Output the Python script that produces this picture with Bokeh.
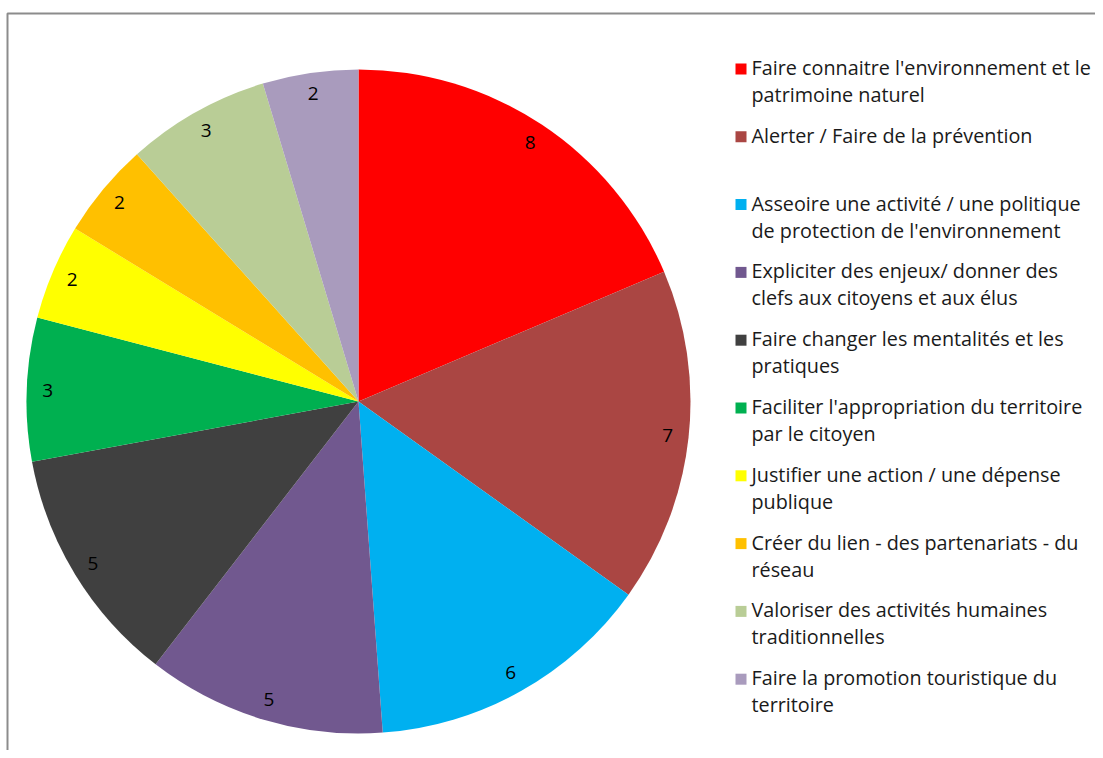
import math
from bokeh.plotting import figure
from bokeh.models import Range1d, ColumnDataSource
from bokeh.core.properties import value
from bokeh.embed import file_html
from bokeh.resources import INLINE

categories = [
    "Faire connaitre l'environnement et le\npatrimoine naturel",
    "Alerter / Faire de la prévention",
    "Asseoire une activité / une politique\nde protection de l'environnement",
    "Expliciter des enjeux/ donner des\nclefs aux citoyens et aux élus",
    "Faire changer les mentalités et les\npratiques",
    "Faciliter l'appropriation du territoire\npar le citoyen",
    "Justifier une action / une dépense\npublique",
    "Créer du lien -  des partenariats - du\nréseau",
    "Valoriser des activités humaines\ntraditionnelles",
    "Faire la promotion touristique du\nterritoire",
]
values = [8, 7, 6, 5, 5, 3, 2, 2, 3, 2]
colors = ["#FF0000", "#AA4643", "#00B0F0", "#71588F", "#404040",
          "#00B050", "#FFFF00", "#FFC000", "#B9CD96", "#A99BBD"]

FONT = "Open Sans"
W, H = 1095, 750

def py(page_y):
    return H - page_y

p = figure(width=W, height=H, output_backend="svg", toolbar_location=None,
           x_range=Range1d(0, W), y_range=Range1d(0, H),
           min_border=0, outline_line_color=None)
p.xaxis.visible = False
p.yaxis.visible = False
p.grid.visible = False
p.background_fill_color = "white"
p.border_fill_color = "white"

# chart frame (top and left edges visible)
p.line([7, 7, W], [py(H + 2), py(13), py(13)], line_color="#8C8C8C", line_width=2)

# pie
cx, cy, r = 358, py(401), 332
total = float(sum(values))
starts, ends, mids = [], [], []
acc = 0.0
for v in values:
    a0 = math.pi / 2 - 2 * math.pi * acc / total
    a1 = math.pi / 2 - 2 * math.pi * (acc + v) / total
    starts.append(a1)
    ends.append(a0)
    mids.append((a0 + a1) / 2)
    acc += v

src = ColumnDataSource(dict(start=starts, end=ends, color=colors))
p.wedge(x=cx, y=cy, radius=r, start_angle="start", end_angle="end",
        fill_color="color", line_color=None, source=src)

lr = 311
lx = [cx + lr * math.cos(m) for m in mids]
ly = [cy + lr * math.sin(m) for m in mids]
p.text(x=lx, y=ly, text=[str(v) for v in values], text_font=value(FONT),
       text_font_size="19px", text_color="#000000", text_align="center",
       text_baseline="middle")

# legend
sq_x, txt_x = 740.5, 751
first_y = 68.5
step = 67.8
line_gap = 27
for i, (lab, col) in enumerate(zip(categories, colors)):
    y0 = first_y + i * step
    p.rect(x=sq_x, y=py(y0), width=11, height=11, fill_color=col, line_color=None)
    for j, line in enumerate(lab.split("\n")):
        p.text(x=[txt_x], y=[py(y0 - 1.5 + j * line_gap)], text=[line],
               text_font=value(FONT), text_font_size="19.8px", text_color="#1a1a1a",
               text_align="left", text_baseline="middle")

open("out.html", "w").write(file_html(p, INLINE))
